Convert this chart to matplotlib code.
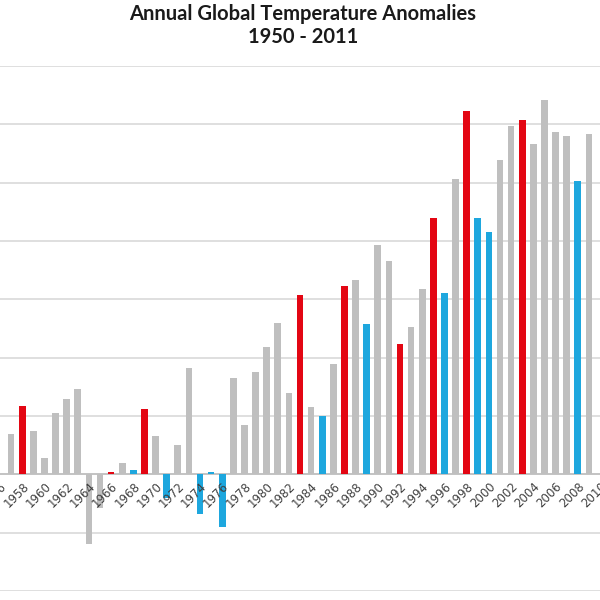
import matplotlib
matplotlib.use("Agg")
import matplotlib.pyplot as plt

# Visible portion of the chart (1957-2009); values in deg C anomaly
years = list(range(1957, 2010))
anomalies = [
    0.069, 0.118, 0.075, 0.028, 0.105, 0.129, 0.147, -0.119, -0.058, 0.004,  # 1957-1966
    0.019, 0.008, 0.112, 0.066, -0.040, 0.051, 0.183, -0.068, 0.004, -0.090,  # 1967-1976
    0.165, 0.085, 0.176, 0.218, 0.259, 0.140, 0.308, 0.116, 0.100, 0.189,     # 1977-1986
    0.323, 0.333, 0.257, 0.393, 0.366, 0.224, 0.253, 0.317, 0.439, 0.311,     # 1987-1996
    0.507, 0.622, 0.439, 0.415, 0.538, 0.598, 0.608, 0.566, 0.641, 0.587,     # 1997-2006
    0.580, 0.502, 0.583,                                                       # 2007-2009
]
# ENSO phase: 'E' = El Nino (red), 'L' = La Nina (blue), 'N' = neutral (gray)
phase = [
    'N', 'E', 'N', 'N', 'N', 'N', 'N', 'N', 'N', 'E',
    'N', 'L', 'E', 'N', 'L', 'N', 'N', 'L', 'L', 'L',
    'N', 'N', 'N', 'N', 'N', 'N', 'E', 'N', 'L', 'N',
    'E', 'N', 'L', 'N', 'N', 'E', 'N', 'N', 'E', 'L',
    'N', 'E', 'L', 'L', 'N', 'N', 'E', 'N', 'N', 'N',
    'N', 'L', 'N',
]
phase_colors = {'E': '#e30613', 'L': '#1ea7de', 'N': '#bfbfbf'}
tick_years = list(range(1956, 2012, 2))
title = "Annual Global Temperature Anomalies\n1950 - 2011"

fig = plt.figure(figsize=(6, 6), dpi=100)
ax = fig.add_axes([0.0, 0.015, 1.0, 0.875])

colors = [phase_colors[p] for p in phase]
ax.bar(years, anomalies, width=0.6, color=colors, zorder=2)

ax.set_xlim(1956.825, 2009.35)
ax.set_ylim(-0.2, 0.7)
ax.set_yticks([-0.2, -0.1, 0.0, 0.1, 0.2, 0.3, 0.4, 0.5, 0.6, 0.7])
ax.yaxis.grid(True, color='#d9d9d9', linewidth=1.2)
ax.yaxis.set_zorder(0.5)
ax.xaxis.set_zorder(5)
ax.tick_params(axis='y', left=False, labelleft=False)

for s in ['top', 'left', 'right']:
    ax.spines[s].set_visible(False)
ax.spines['bottom'].set_position(('data', 0))
ax.spines['bottom'].set_color('#bfbfbf')
ax.spines['bottom'].set_linewidth(1.2)
ax.spines['bottom'].set_zorder(1)

ax.set_xticks(tick_years)
ax.set_xticklabels([str(y) for y in tick_years], rotation=45, ha='right',
                   rotation_mode='anchor', fontsize=8.5, color='#404040')
ax.tick_params(axis='x', length=0, pad=4)

fig.text(0.505, 0.993, title, ha='center', va='top', fontsize=14.5,
         fontweight='bold', family='Lato', color='#1a1a1a', linespacing=1.15)

fig.savefig('out.png', dpi=100, facecolor='white')
